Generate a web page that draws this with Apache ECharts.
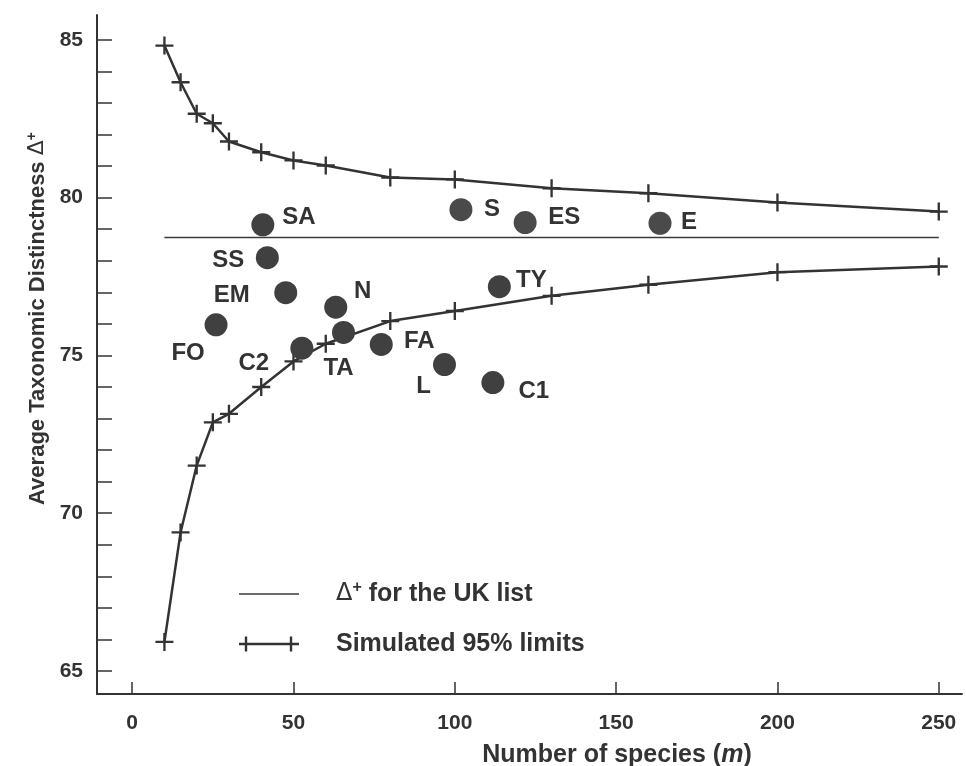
<!DOCTYPE html>
<html>
<head>
<meta charset="utf-8">
<script src="https://cdn.jsdelivr.net/npm/echarts@6/dist/echarts.min.js"></script>
<style>
html,body{margin:0;padding:0;background:#fff;}
#chart{width:966px;height:766px;}
</style>
</head>
<body>
<div id="chart"></div>
<script>
// ---- data ----
const limitX = [10, 15, 20, 25, 30, 40, 50, 60, 80, 100, 130, 160, 200, 250];
const upperLimit = [84.82, 83.66, 82.66, 82.36, 81.78, 81.44, 81.18, 81.02, 80.64, 80.58, 80.30, 80.14, 79.85, 79.56];
const lowerLimit = [65.92, 69.39, 71.51, 72.88, 73.15, 74.0, 74.81, 75.37, 76.09, 76.41, 76.89, 77.24, 77.64, 77.82];
const ukMean = 78.74;
const ukMeanRange = [10, 250];
const siteNames = ['SA', 'SS', 'EM', 'FO', 'N', 'TA', 'C2', 'FA', 'L', 'C1', 'TY', 'S', 'ES', 'E'];
const siteSpecies = [40.5, 41.9, 47.6, 26.0, 63.1, 65.5, 52.6, 77.2, 96.8, 111.8, 113.8, 101.9, 121.8, 163.6];
const siteDelta = [79.14, 78.10, 76.99, 75.97, 76.53, 75.73, 75.23, 75.35, 74.71, 74.14, 77.18, 79.62, 79.21, 79.19];
const xTicks = [0, 50, 100, 150, 200, 250];
const yTicks = [65,66,67,68,69,70,71,72,73,74,75,76,77,78,79,80,81,82,83,84,85];
const yLabels = [65, 70, 75, 80, 85];

// ---- label placement (style) ----
const labelOffsets = {
  SA: [36, -7], SS: [-39, 3], EM: [-54, 3], FO: [-28, 29], N: [27, -16],
  TA: [-5, 36], C2: [-48, 15], FA: [38, -3], L: [-21, 22], C1: [41, 9],
  TY: [32, -6], S: [31, 0], ES: [39, -5], E: [29, -1]
};
const speckled = { S: true, ES: true, E: true };

const INK = '#333333';
const FONT = '"Liberation Sans", Arial, sans-serif';
const plusPath = 'path://M-1.3,-10 H1.3 V-1.3 H10 V1.3 H1.3 V10 H-1.3 V1.3 H-10 V-1.3 H-1.3 Z';
const legendLimitIcon = 'path://M0,7.3 H60 V9.7 H0 Z M5.8,1 H8.2 V16 H5.8 Z M50.8,1 H53.2 V16 H50.8 Z';
const legendMeanIcon = 'path://M0,0 H60 V1.5 H0 Z';

const limitName = 'Simulated 95% limits';
const meanName = 'UKmean';

const sites = siteNames.map((n, i) => ({
  name: n,
  value: [siteSpecies[i], siteDelta[i]],
  itemStyle: { color: speckled[n] ? '#4a4a4a' : '#404040', opacity: 1 },
  label: { offset: labelOffsets[n] }
}));

const chart = echarts.init(document.getElementById('chart'), null, { renderer: 'canvas' });
chart.setOption({
  animation: false,
  backgroundColor: '#ffffff',
  textStyle: { fontFamily: FONT },
  grid: { left: 97, right: 4, top: 15, bottom: 72, containLabel: false, outerBoundsMode: 'none' },
  xAxis: {
    type: 'value',
    min: -10.9,
    max: 257.2,
    name: 'Number of species ({i|m})',
    nameLocation: 'middle',
    nameGap: 49,
    nameTextStyle: {
      color: INK, fontSize: 25, fontWeight: 'bold', fontFamily: FONT,
      padding: [0, 0, 0, 175],
      rich: { i: { fontStyle: 'italic', fontWeight: 'bold', fontSize: 25, color: INK, fontFamily: FONT } }
    },
    axisLine: { show: true, onZero: false, lineStyle: { color: INK, width: 2 } },
    axisTick: { show: true, inside: true, length: 12, customValues: xTicks, lineStyle: { color: INK, width: 1.5 } },
    axisLabel: { customValues: xTicks, margin: 19, color: INK, fontSize: 21, fontWeight: 'bold', fontFamily: FONT },
    splitLine: { show: false }
  },
  yAxis: {
    type: 'value',
    min: 64.27,
    max: 85.79,
    name: 'Average Taxonomic Distinctness {d|Δ}{s|+}',
    nameLocation: 'middle',
    nameGap: 46,
    nameTextStyle: {
      color: INK, fontSize: 22, fontWeight: 'bold', fontFamily: FONT,
      padding: [0, 0, 0, 72],
      rich: {
        d: { fontSize: 22, fontWeight: 'normal', color: INK, fontFamily: '"DejaVu Sans", sans-serif' },
        s: { fontSize: 14, fontWeight: 'bold', color: INK, fontFamily: FONT, padding: [0, 0, 12, 0] }
      }
    },
    axisLine: { show: true, onZero: false, lineStyle: { color: INK, width: 2 } },
    axisTick: { show: true, inside: true, length: 15, customValues: yTicks, lineStyle: { color: INK, width: 1.5 } },
    axisLabel: { customValues: yLabels, margin: 14, color: INK, fontSize: 21, fontWeight: 'bold', fontFamily: FONT },
    splitLine: { show: false }
  },
  legend: {
    orient: 'vertical',
    left: 239,
    top: 580,
    padding: 0,
    itemWidth: 60,
    itemHeight: 17,
    itemGap: 25,
    symbolKeepAspect: true,
    data: [
      { name: meanName, icon: legendMeanIcon, itemStyle: { color: '#3a3a3a' } },
      { name: limitName, icon: legendLimitIcon, itemStyle: { color: INK } }
    ],
    formatter: function (n) {
      return n === meanName ? '{d|Δ}{s|+} for the UK list' : n;
    },
    textStyle: {
      color: INK, fontSize: 25, fontWeight: 'bold', fontFamily: FONT,
      padding: [0, 0, 0, 32],
      rich: {
        d: { fontSize: 24, fontWeight: 'normal', color: INK, fontFamily: '"DejaVu Sans", sans-serif' },
        s: { fontSize: 16, fontWeight: 'bold', color: INK, fontFamily: FONT, padding: [0, 0, 12, 0] }
      }
    },
    selectedMode: false
  },
  series: [
    {
      name: meanName,
      type: 'line',
      data: ukMeanRange.map(x => [x, ukMean]),
      symbol: 'none',
      lineStyle: { color: '#3a3a3a', width: 1.5 },
      itemStyle: { color: '#3a3a3a' },
      z: 2
    },
    {
      name: limitName,
      type: 'line',
      data: limitX.map((x, i) => [x, upperLimit[i]]),
      symbol: plusPath,
      symbolSize: 18,
      showSymbol: true,
      lineStyle: { color: INK, width: 2.5 },
      itemStyle: { color: INK },
      z: 3
    },
    {
      name: limitName,
      type: 'line',
      data: limitX.map((x, i) => [x, lowerLimit[i]]),
      symbol: plusPath,
      symbolSize: 18,
      showSymbol: true,
      lineStyle: { color: INK, width: 2.5 },
      itemStyle: { color: INK },
      z: 3
    },
    {
      name: 'sites',
      type: 'scatter',
      data: sites,
      symbol: 'circle',
      symbolSize: 23,
      z: 5,
      label: {
        show: true,
        position: 'inside',
        formatter: p => p.name,
        color: INK,
        fontSize: 24,
        fontWeight: 'bold',
        fontFamily: FONT,
        align: 'center',
        verticalAlign: 'middle'
      }
    }
  ]
});
</script>
</body>
</html>
